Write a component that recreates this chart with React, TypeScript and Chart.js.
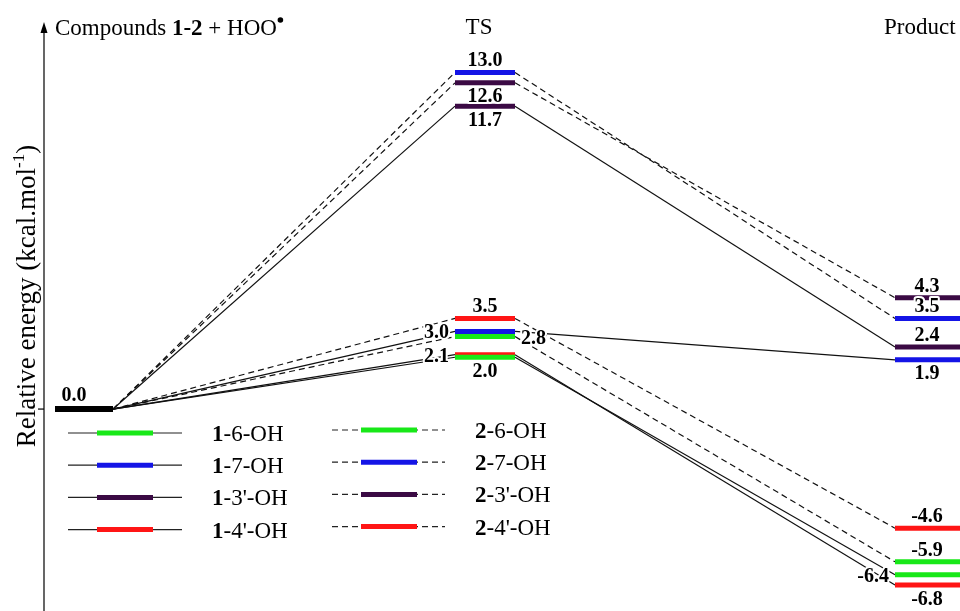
import React, { useEffect, useRef } from 'react';
import { Chart, registerables } from 'chart.js';

Chart.register(...registerables);

// ---- data -----------------------------------------------------------------
const SERIES = ['1-6-OH', '1-7-OH', "1-3'-OH", "1-4'-OH", '2-6-OH', '2-7-OH', "2-3'-OH", "2-4'-OH"];
const REACTANT_ENERGY = 0.0;
const TS_ENERGY = [2.0, 3.0, 11.7, 2.1, 2.8, 13.0, 12.6, 3.5];
const PRODUCT_ENERGY = [-6.4, 1.9, 2.4, -6.8, -5.9, 3.5, 4.3, -4.6];
const STAGE_TITLES = ['TS', 'Product'];

// ---- styles ---------------------------------------------------------------
const LEVEL_COLORS = ['#18e818', '#1414e6', '#3b0a44', '#ff1515', '#18e818', '#1414e6', '#3b0a44', '#ff1515'];
const DASHED = [false, false, false, false, true, true, true, true];
const TS_LABEL_SIDE = ['below', 'left', 'below', 'left', 'right', 'above', 'below', 'above'];
const PRODUCT_LABEL_SIDE = ['left', 'below', 'above', 'below', 'above', 'above', 'above', 'above'];

// reaction-coordinate geometry (x units)
const REACT_X = [0, 0.145];
const TS_X = [1, 1.15];
const PROD_X = [2.1, 2.3];
const PROD_LABEL_X = 2.18;

const SERIF = '"Liberation Serif", "Times New Roman", serif';
const BAR_W = 5;
const LINK_W = 1.2;
const DASH = [6, 4];

function drawValue(ctx: CanvasRenderingContext2D, v: number, xc: number, xl: number, xr: number, y: number, side: string) {
  const text = v.toFixed(1);
  ctx.save();
  ctx.font = `bold 20px ${SERIF}`;
  ctx.textBaseline = 'alphabetic';
  let tx = xc;
  let ty = y - 6;
  ctx.textAlign = 'center';
  if (side === 'below') {
    ty = y + 19.5;
  } else if (side === 'left') {
    ctx.textAlign = 'right';
    tx = xl - 6;
    ty = y + 7;
  } else if (side === 'right') {
    ctx.textAlign = 'left';
    tx = xr + 6;
    ty = y + 7;
  }
  ctx.lineJoin = 'round';
  ctx.lineWidth = 4;
  ctx.strokeStyle = '#ffffff';
  ctx.strokeText(text, tx, ty);
  ctx.fillStyle = '#000000';
  ctx.fillText(text, tx, ty);
  ctx.restore();
}

// draws runs of [text, bold] pieces starting at x on a baseline
function drawRuns(ctx: CanvasRenderingContext2D, runs: [string, boolean][], x: number, y: number, size: number) {
  let cx = x;
  for (const [t, b] of runs) {
    ctx.font = `${b ? 'bold ' : ''}${size}px ${SERIF}`;
    ctx.fillText(t, cx, y);
    cx += ctx.measureText(t).width;
  }
  return cx;
}

const diagramPlugin = {
  id: 'energyDiagram',
  afterDatasetsDraw(chart: any) {
    const ctx: CanvasRenderingContext2D = chart.ctx;
    const xs = chart.scales.x;
    const ys = chart.scales.y;
    const axisX = 44;
    const y0 = ys.getPixelForValue(0);

    // vertical energy axis with arrow and zero tick
    ctx.save();
    ctx.strokeStyle = '#000';
    ctx.fillStyle = '#000';
    ctx.lineWidth = 1.2;
    ctx.beginPath();
    ctx.moveTo(axisX, chart.height);
    ctx.lineTo(axisX, 30);
    ctx.stroke();
    ctx.beginPath();
    ctx.moveTo(axisX, 22);
    ctx.lineTo(axisX - 3.5, 33);
    ctx.lineTo(axisX + 3.5, 33);
    ctx.closePath();
    ctx.fill();
    ctx.beginPath();
    ctx.moveTo(axisX - 6, y0);
    ctx.lineTo(axisX, y0);
    ctx.stroke();
    ctx.restore();

    // axis title
    ctx.save();
    ctx.translate(28, 296);
    ctx.rotate(-Math.PI / 2);
    ctx.fillStyle = '#000';
    ctx.textBaseline = 'middle';
    const main = 'Relative energy (kcal.mol';
    ctx.font = `27px ${SERIF}`;
    const wMain = ctx.measureText(main).width;
    ctx.font = `17px ${SERIF}`;
    const wSup = ctx.measureText('-1').width;
    ctx.font = `27px ${SERIF}`;
    const wEnd = ctx.measureText(')').width;
    let sx = -(wMain + wSup + wEnd) / 2;
    ctx.fillText(main, sx, 0);
    sx += wMain;
    ctx.font = `17px ${SERIF}`;
    ctx.fillText('-1', sx, -8);
    sx += wSup;
    ctx.font = `27px ${SERIF}`;
    ctx.fillText(')', sx, 0);
    ctx.restore();

    // stage headers
    ctx.save();
    ctx.fillStyle = '#000';
    ctx.textBaseline = 'alphabetic';
    const endX = drawRuns(ctx, [['Compounds ', false], ['1-2', true], [' + HOO', false]], 55, 35, 23);
    ctx.beginPath();
    ctx.arc(endX + 3.5, 20, 2.8, 0, Math.PI * 2);
    ctx.fill();
    ctx.font = `23px ${SERIF}`;
    ctx.textAlign = 'center';
    ctx.fillText(STAGE_TITLES[0], xs.getPixelForValue((TS_X[0] + TS_X[1]) / 2) - 6, 34);
    ctx.textAlign = 'left';
    ctx.fillText(STAGE_TITLES[1], 884, 34);
    ctx.restore();

    // value labels
    const rc = xs.getPixelForValue((REACT_X[0] + REACT_X[1]) / 2);
    drawValue(ctx, REACTANT_ENERGY, rc - 10, 0, 0, y0 - 2, 'above');
    const tl = xs.getPixelForValue(TS_X[0]);
    const tr = xs.getPixelForValue(TS_X[1]);
    const tc = (tl + tr) / 2;
    const pl = xs.getPixelForValue(PROD_X[0]);
    const pc = xs.getPixelForValue(PROD_LABEL_X);
    SERIES.forEach((_, i) => {
      drawValue(ctx, TS_ENERGY[i], tc, tl, tr, ys.getPixelForValue(TS_ENERGY[i]), TS_LABEL_SIDE[i]);
      drawValue(ctx, PRODUCT_ENERGY[i], pc, pl, pl, ys.getPixelForValue(PRODUCT_ENERGY[i]), PRODUCT_LABEL_SIDE[i]);
    });

    // legend
    ctx.save();
    ctx.textBaseline = 'alphabetic';
    ctx.fillStyle = '#000';
    SERIES.forEach((name, i) => {
      const col = DASHED[i] ? 1 : 0;
      const row = i % 4;
      const y = (col ? 430 : 433) + row * 32.2;
      const x0 = col ? 332 : 68;
      const x1 = col ? 445 : 182;
      const b0 = col ? 361 : 97;
      const b1 = col ? 417 : 153;
      const tx = col ? 475 : 212;
      ctx.strokeStyle = '#222';
      ctx.lineWidth = LINK_W;
      ctx.setLineDash(DASHED[i] ? DASH : []);
      ctx.beginPath();
      ctx.moveTo(x0, y);
      ctx.lineTo(x1, y);
      ctx.stroke();
      ctx.setLineDash([]);
      ctx.strokeStyle = LEVEL_COLORS[i];
      ctx.lineWidth = BAR_W;
      ctx.beginPath();
      ctx.moveTo(b0, y);
      ctx.lineTo(b1, y);
      ctx.stroke();
      const [num, ...rest] = name.split('-');
      drawRuns(ctx, [[num, true], ['-' + rest.join('-'), false]], tx, y + 8, 23);
    });
    ctx.restore();
  },
};

export default function App() {
  const canvasRef = useRef<HTMLCanvasElement | null>(null);

  useEffect(() => {
    const canvas = canvasRef.current;
    if (!canvas) return;

    const levelDatasets = SERIES.map((name, i) => ({
      label: name,
      data: [
        { x: REACT_X[1], y: REACTANT_ENERGY },
        { x: TS_X[0], y: TS_ENERGY[i] },
        { x: TS_X[1], y: TS_ENERGY[i] },
        { x: PROD_X[0], y: PRODUCT_ENERGY[i] },
        { x: PROD_X[1], y: PRODUCT_ENERGY[i] },
      ],
      borderColor: '#111',
      borderWidth: LINK_W,
      pointRadius: 0,
      tension: 0,
      fill: false,
      order: 2,
      segment: {
        borderColor: (c: any) => (c.p0DataIndex === 1 || c.p0DataIndex === 3 ? LEVEL_COLORS[i] : '#111'),
        borderWidth: (c: any) => (c.p0DataIndex === 1 || c.p0DataIndex === 3 ? BAR_W : LINK_W),
        borderDash: (c: any) => (c.p0DataIndex === 1 || c.p0DataIndex === 3 ? [] : DASHED[i] ? DASH : []),
      },
    }));

    const reactantDataset = {
      label: 'reactants',
      data: [
        { x: REACT_X[0], y: REACTANT_ENERGY },
        { x: REACT_X[1], y: REACTANT_ENERGY },
      ],
      borderColor: '#000',
      borderWidth: 6,
      pointRadius: 0,
      fill: false,
      order: 1,
    };

    const chart = new Chart(canvas, {
      type: 'line',
      data: { datasets: [...levelDatasets, reactantDataset] as any },
      options: {
        responsive: false,
        animation: false,
        layout: { padding: 0 },
        plugins: { legend: { display: false }, tooltip: { enabled: false }, title: { display: false } },
        scales: {
          x: { type: 'linear', min: -0.1375, max: 2.2625, display: false },
          y: { type: 'linear', min: -7.8, max: 15.8, display: false },
        },
        elements: { line: { borderCapStyle: 'butt', borderJoinStyle: 'miter' } },
      },
      plugins: [diagramPlugin],
    });

    return () => chart.destroy();
  }, []);

  return (
    <div style={{ position: 'absolute', left: 0, top: 0, width: 960, height: 611, background: '#fff' }}>
      <canvas ref={canvasRef} width={960} height={611} style={{ display: 'block' }} />
    </div>
  );
}
